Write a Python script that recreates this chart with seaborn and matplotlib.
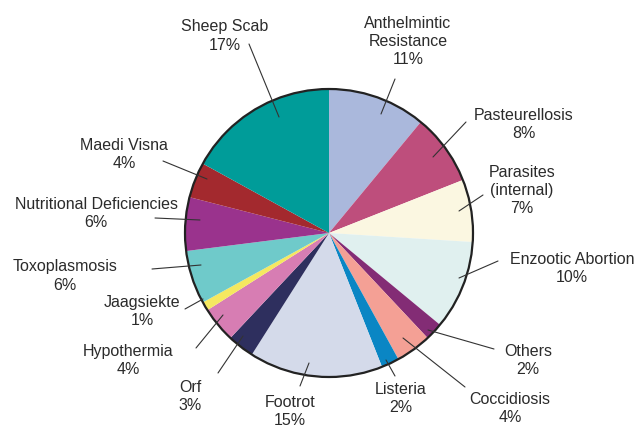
import matplotlib
matplotlib.use("Agg")
import matplotlib.pyplot as plt
import seaborn as sns
from matplotlib.patches import Circle

categories = ["Anthelmintic\nResistance", "Pasteurellosis", "Parasites\n(internal)",
              "Enzootic Abortion", "Others", "Coccidiosis", "Listeria", "Footrot",
              "Orf", "Hypothermia", "Jaagsiekte", "Toxoplasmosis",
              "Nutritional Deficiencies", "Maedi Visna", "Sheep Scab"]
values = [11, 8, 7, 10, 2, 4, 2, 15, 3, 4, 1, 6, 6, 4, 17]
colors = ["#AAB8DC", "#BE4E7C", "#FBF7E1", "#E0F0EF", "#832C75", "#F4A095",
          "#0A86C4", "#D4DAEA", "#2E2F5E", "#D77DB3", "#F5E860", "#6FCACA",
          "#9A338D", "#A3292E", "#009C99"]

# layout (pixel coords, y from top): label block center, leader line ends
label_pos = [(408, 41), (524, 125), (522, 191), (572, 269), (528, 361), (510, 409),
             (401, 399), (290, 412), (190, 397), (128, 361), (142, 312), (65, 276),
             (96, 214), (124, 155), (225, 36)]
leaders = [((395, 80), (381, 115)), ((466, 123), (433, 158)), ((483, 196), (459, 212)),
           ((498, 262), (459, 279)), ((494, 350), (428, 331)), ((465, 388), (403, 339)),
           ((395, 377), (386, 361)), ((300, 387), (309, 364)), ((218, 374), (243, 337)),
           ((196, 349), (223, 316)), ((185, 310), (203, 300)), ((152, 270), (201, 266)),
           ((155, 219), (200, 221)), ((163, 162), (207, 180)), ((249, 45), (279, 118))]

sns.set_theme(style="white")
plt.rcParams['font.family'] = ['Liberation Sans', 'DejaVu Sans']

W, H = 641, 427
fig = plt.figure(figsize=(W / 100, H / 100), dpi=100)
ax = fig.add_axes([0, 0, 1, 1])
cx, cy, r = 329, H - 234, 144

ax.pie(values, colors=colors, startangle=90, counterclock=False,
       center=(cx, cy), radius=r, wedgeprops=dict(linewidth=0))
ax.add_patch(Circle((cx, cy), r, fill=False, edgecolor="#222222", linewidth=1.6))

txtc = "#2b2b2b"
for cat, v, (lx, ly), (p1, p2) in zip(categories, values, label_pos, leaders):
    ax.text(lx, H - ly, f"{cat}\n{v}%", ha="center", va="center", fontsize=11.5,
            color=txtc, linespacing=1.25, multialignment="center")
    ax.plot([p1[0], p2[0]], [H - p1[1], H - p2[1]], color="#333333", lw=0.8)

ax.set_xlim(0, W)
ax.set_ylim(0, H)
ax.set_aspect("equal")
ax.axis("off")
fig.savefig("out.png", dpi=100)
